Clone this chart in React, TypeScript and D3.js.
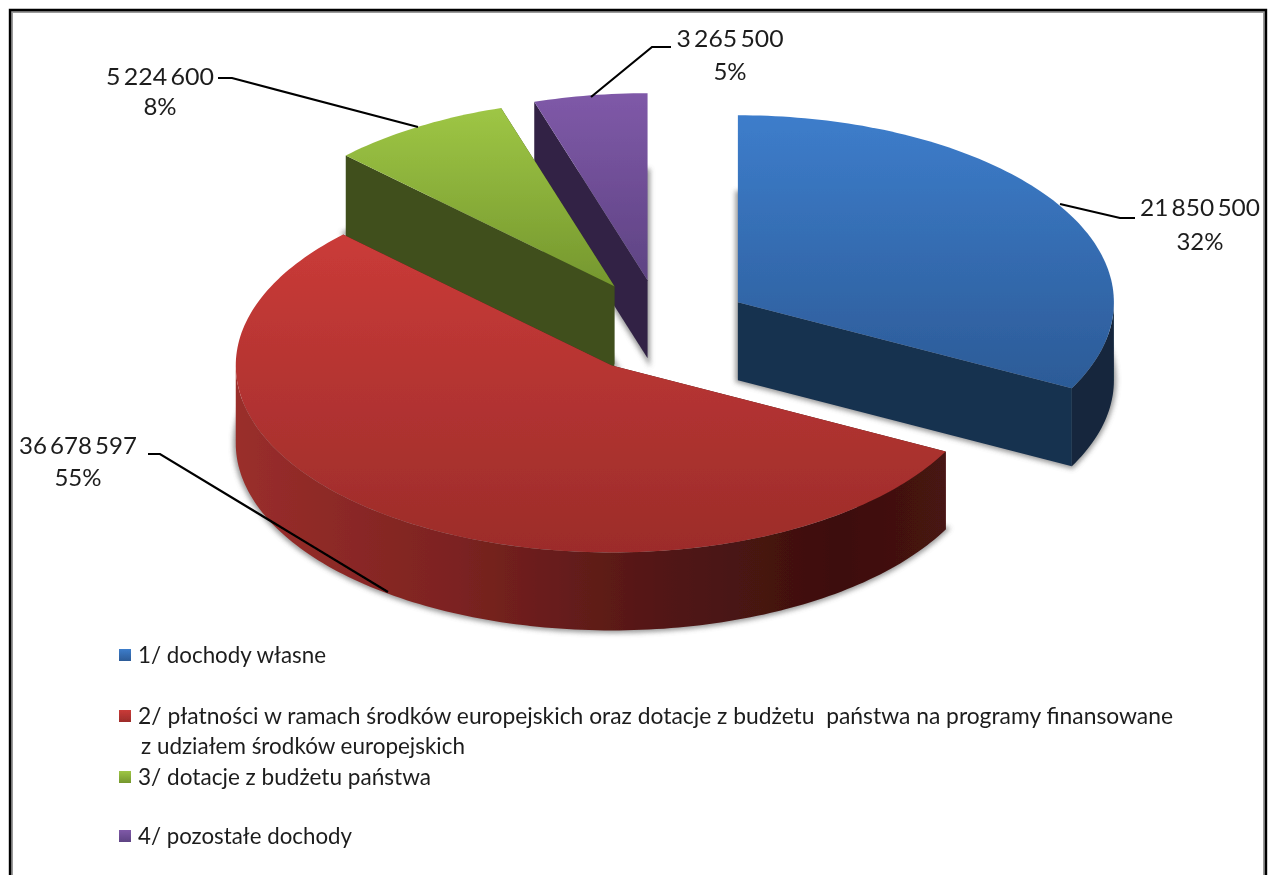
import React from "react";
import * as d3 from "d3";

// ---- data ----
const categories = ["1/ dochody własne", "2/ płatności", "3/ dotacje z budżetu państwa", "4/ pozostałe dochody"];
const values = [21850500, 36678597, 5224600, 3265500];
const percentLabels = ["32%", "55%", "8%", "5%"];

// ---- style / layout ----
const topStops = [["#3d7dcb", "#2c5b97"], ["#ca3b38", "#9c2c2a"], ["#9ec645", "#75972e"], ["#7f59a8", "#5e4383"]];
const wallColors = ["#173150", "#4a1310", "#40501c", "#312345"];
const rimColors = ["#12253c", "#4a1310", "#40501c", "#312345"];
const redRimStops: [number, string][] = [[0, "#9a2e2b"], [0.3, "#7d2321"], [0.6, "#521715"], [0.85, "#3d0f0e"], [1, "#471312"]];
const explosion = [90, 84, 89, 88];
const wallOverlap = [0, 0, 3, 0];
const cx = 661, cy = 328, rx = 376, ry = 187, depth = 78, explodeTilt = 0.55;
const drawOrder = [3, 2, 0, 1];
const fontFamily = "Lato, 'Open Sans', sans-serif";

const labelLayout = [
  { x: 1200, y1: 216, y2: 250, w: 120, leader: [[1060, 204], [1120, 218], [1135, 218]] },
  { x: 78, y1: 454, y2: 486, w: 118, leader: [[148, 454], [160, 454], [388, 592]] },
  { x: 160, y1: 85, y2: 115, w: 108, leader: [[218, 78], [232, 78], [418, 127]] },
  { x: 730, y1: 47, y2: 80, w: 107, leader: [[671, 47], [652, 47], [591, 97]] },
];

const legendRows = [
  { swatch: 0, y: 655, text: "1/ dochody własne", x: 138, w: 188 },
  { swatch: 1, y: 716, text: "2/ płatności w ramach środków europejskich oraz dotacje z budżetu  państwa na programy finansowane", x: 138, w: 1035 },
  { swatch: -1, y: 746, text: "z udziałem środków europejskich", x: 141, w: 324 },
  { swatch: 2, y: 777, text: "3/ dotacje z budżetu państwa", x: 138, w: 293 },
  { swatch: 3, y: 836, text: "4/ pozostałe dochody", x: 138, w: 214 },
];

const fmt = d3.formatLocale({ decimal: ",", thousands: " ", grouping: [3], currency: ["", ""] }).format(",");
const arcs = d3.pie<number>().sort(null)(values);
const line = d3.line();

export default function App() {
  const slices = arcs.map((a, i) => {
    const mid = (a.startAngle + a.endAngle) / 2;
    const ax = cx + explosion[i] * Math.sin(mid);
    const ay = cy - explosion[i] * Math.cos(mid) * explodeTilt;
    const pt = (t: number, dz = 0): [number, number] => [ax + rx * Math.sin(t), ay - ry * Math.cos(t) + dz];
    const sample = (t0: number, t1: number, dz = 0) => {
      const n = Math.max(2, Math.ceil((t1 - t0) / 0.02));
      return d3.range(n + 1).map((k) => pt(t0 + ((t1 - t0) * k) / n, dz));
    };
    const apex: [number, number] = [ax, ay];
    const apexB: [number, number] = [ax, ay + depth];
    const wd = depth + wallOverlap[i];
    const top = line([apex, ...sample(a.startAngle, a.endAngle)])! + "Z";
    const base = line([apexB, ...sample(a.startAngle, a.endAngle, depth)])! + "Z";
    const startWall = line([apex, pt(a.startAngle), pt(a.startAngle, wd), [ax, ay + wd]])! + "Z";
    const endWall = line([apex, pt(a.endAngle), pt(a.endAngle, depth), apexB])! + "Z";
    const r0 = Math.max(a.startAngle, Math.PI / 2), r1 = Math.min(a.endAngle, (3 * Math.PI) / 2);
    const rim = r1 > r0 ? line([...sample(r0, r1), ...sample(r0, r1, depth).reverse()])! + "Z" : null;
    return { i, top, base, startWall, endWall, rim };
  });

  const txt: React.CSSProperties = { fontFamily, fill: "#1c1c1c" };

  return (
    <svg width={1270} height={875} viewBox="0 0 1270 875" style={{ position: "absolute", left: 0, top: 0, background: "#fff" }}>
      <defs>
        <filter id="shadow" x="-10%" y="-10%" width="120%" height="120%">
          <feGaussianBlur stdDeviation="2.5" />
        </filter>
        <filter id="soft" x="-2%" y="-2%" width="104%" height="104%">
          <feGaussianBlur stdDeviation="0.45" />
        </filter>
        {topStops.map((s, i) => (
          <linearGradient key={i} id={`top${i}`} x1="0" y1="0" x2="0" y2="1">
            <stop offset="0" stopColor={s[0]} />
            <stop offset="1" stopColor={s[1]} />
          </linearGradient>
        ))}
        <linearGradient id="redRim" x1="0" y1="0" x2="1" y2="0">
          {redRimStops.map(([o, c]) => (
            <stop key={o} offset={o} stopColor={c} />
          ))}
        </linearGradient>
      </defs>

      {/* frame */}
      <path d="M11 875V11H1265V875" fill="none" stroke="#9a9a9a" strokeWidth={4} />
      <path d="M10 875V10H1266V875" fill="none" stroke="#000" strokeWidth={2.4} />

      <g filter="url(#soft)">
        {drawOrder.map((idx) => {
          const s = slices[idx];
          return (
            <g key={idx}>
              <path d={s.base} fill="#777" stroke="#777" strokeWidth={5} opacity={0.75} filter="url(#shadow)" />
              <path d={s.startWall} fill={wallColors[idx]} />
              <path d={s.endWall} fill={wallColors[idx]} />
              {s.rim && <path d={s.rim} fill={idx === 1 ? "url(#redRim)" : rimColors[idx]} />}
              <path d={s.top} fill={`url(#top${idx})`} />
            </g>
          );
        })}

        {labelLayout.map((l, i) => (
          <path key={i} d={line(l.leader as [number, number][])!} fill="none" stroke="#000" strokeWidth={2.2} />
        ))}

        {labelLayout.map((l, i) => (
          <g key={i} textAnchor="middle" style={txt} fontSize={24}>
            <text x={l.x} y={l.y1} textLength={l.w} lengthAdjust="spacingAndGlyphs" style={{ wordSpacing: "-3px" }}>{fmt(values[i])}</text>
            <text x={l.x} y={l.y2}>{percentLabels[i]}</text>
          </g>
        ))}

        {legendRows.map((r, i) => (
          <g key={i}>
            {r.swatch >= 0 && <rect x={119} y={r.y - 6} width={12} height={12} fill={`url(#top${r.swatch})`} />}
            <text x={r.x} y={r.y + 8} fontSize={23.5} textLength={r.w} lengthAdjust="spacingAndGlyphs" style={{ ...txt, whiteSpace: "pre" }}>
              {r.text}
            </text>
          </g>
        ))}
      </g>
    </svg>
  );
}
